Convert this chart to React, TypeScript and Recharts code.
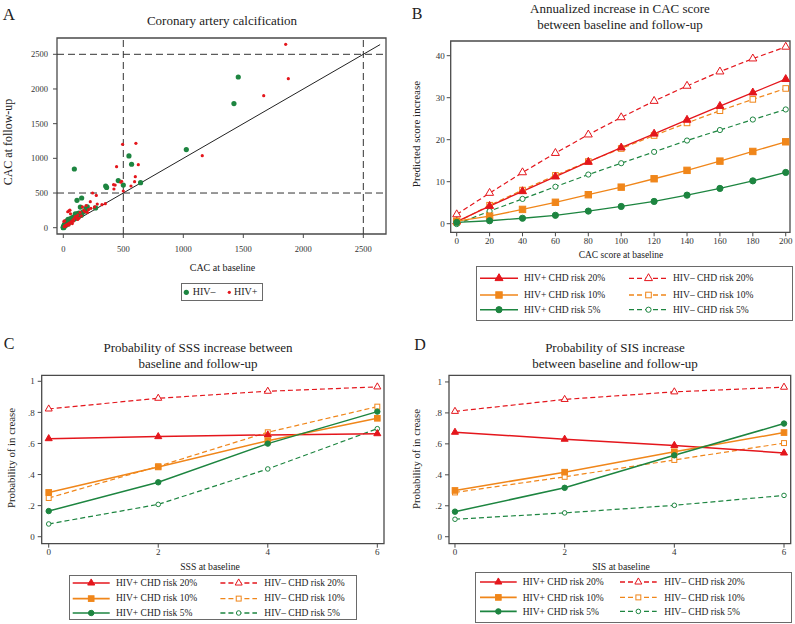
import React from 'react';
import { ScatterChart, Scatter, LineChart, Line, XAxis, YAxis, ReferenceLine, ReferenceArea } from 'recharts';

const FONT = "'Liberation Serif', 'Times New Roman', serif";
const RED = '#e4161c';
const ORANGE = '#f0861a';
const GREEN = '#1d8540';
const AXIS = '#4a4a4a';
const TEXT = '#222';

// ---------- Panel A: scatter ----------
const hivNeg: [number, number][] = [
  [1458, 2173], [1422, 1789], [1025, 1127], [547, 1035], [569, 915], [458, 680], [500, 615], [644, 649],
  [92, 846], [353, 600], [361, 580], [153, 428], [114, 394], [142, 298], [200, 300], [190, 280], [269, 285],
  [120, 205], [130, 210], [100, 200], [80, 150], [60, 130], [40, 120], [30, 100], [50, 90], [20, 80],
  [10, 50], [5, 30], [0, 10], [2, 5], [15, 40], [25, 60], [35, 70], [45, 85], [55, 100], [70, 110],
  [90, 150], [110, 170], [140, 200], [160, 220], [180, 240], [75, 135], [65, 120], [12, 25], [8, 18],
  [3, 8], [28, 45], [38, 55], [48, 75], [18, 30], [95, 160], [125, 190], [150, 180], [105, 140], [85, 120],
  [0, 0], [1, 3],
];
const hivPos: [number, number][] = [
  [1853, 2644], [1875, 2149], [1670, 1904], [1158, 1038], [605, 1216], [494, 1202], [444, 880], [625, 909],
  [600, 736], [594, 663], [486, 668], [478, 655], [419, 620], [432, 615], [422, 558], [564, 601], [500, 529],
  [244, 500], [275, 466], [225, 375], [350, 346], [322, 332], [283, 341], [47, 242], [37, 230], [55, 252],
  [60, 200], [10, 100], [5, 90], [100, 160], [120, 180], [170, 250], [180, 230], [200, 220], [190, 320],
  [160, 300], [140, 220], [110, 150], [90, 130], [80, 110], [70, 90], [55, 70], [45, 60], [35, 50],
  [25, 40], [15, 30], [8, 15], [20, 20], [30, 35], [65, 80], [130, 135], [150, 170], [210, 260],
  [230, 280], [260, 300], [120, 120], [85, 95], [48, 40], [75, 60],
];
const diagonal = [{ x: 0, y: 0 }, { x: 2640, y: 2640 }];
const aTicks = [0, 500, 1000, 1500, 2000, 2500];
const aCutoffs = [500, 2500];

// ---------- Panel B ----------
const bX = [0, 20, 40, 60, 80, 100, 120, 140, 160, 180, 200];
const bPos20 = [0.5, 4.2, 7.7, 11.2, 14.7, 18.1, 21.4, 24.7, 28.0, 31.2, 34.4];
const bNeg20 = [2.2, 7.3, 12.2, 16.8, 21.2, 25.3, 29.2, 32.8, 36.2, 39.3, 42.1];
const bPos10 = [0.6, 1.8, 3.4, 5.1, 6.9, 8.7, 10.7, 12.7, 14.9, 17.2, 19.5];
const bNeg10 = [0.3, 4.4, 8.0, 11.5, 14.8, 17.9, 21.0, 24.0, 26.9, 29.6, 32.2];
const bPos5 = [0.3, 0.7, 1.3, 2.0, 3.0, 4.1, 5.3, 6.8, 8.4, 10.2, 12.2];
const bNeg5 = [-0.1, 3.0, 5.9, 8.8, 11.7, 14.4, 17.1, 19.8, 22.3, 24.8, 27.2];
const bXTicks = [0, 20, 40, 60, 80, 100, 120, 140, 160, 180, 200];
const bYTicks = [0, 10, 20, 30, 40];

// ---------- Panel C ----------
const cX = [0, 2, 4, 6];
const cPos20 = [0.631, 0.644, 0.655, 0.663];
const cNeg20 = [0.822, 0.891, 0.936, 0.964];
const cPos10 = [0.285, 0.449, 0.618, 0.762];
const cNeg10 = [0.249, 0.453, 0.672, 0.837];
const cPos5 = [0.165, 0.35, 0.599, 0.805];
const cNeg5 = [0.082, 0.208, 0.436, 0.695];

// ---------- Panel D ----------
const dX = [0, 2, 4, 6];
const dPos20 = [0.675, 0.63, 0.59, 0.541];
const dNeg20 = [0.81, 0.887, 0.936, 0.966];
const dPos10 = [0.299, 0.417, 0.549, 0.673];
const dNeg10 = [0.286, 0.387, 0.496, 0.605];
const dPos5 = [0.162, 0.316, 0.526, 0.731];
const dNeg5 = [0.113, 0.154, 0.203, 0.267];

const probXTicks = [0, 2, 4, 6];
const probYTicks = [0, 0.2, 0.4, 0.6, 0.8, 1];

type MarkerType = 'triangle' | 'square' | 'circle';
interface SeriesDef { key: string; label: string; color: string; dashed: boolean; marker: MarkerType; filled: boolean; }

const seriesDefs: SeriesDef[] = [
  { key: 'n20', label: 'HIV\u2013 CHD risk 20%', color: RED, dashed: true, marker: 'triangle', filled: false },
  { key: 'n10', label: 'HIV\u2013 CHD risk 10%', color: ORANGE, dashed: true, marker: 'square', filled: false },
  { key: 'n5', label: 'HIV\u2013 CHD risk 5%', color: GREEN, dashed: true, marker: 'circle', filled: false },
  { key: 'p20', label: 'HIV+ CHD risk 20%', color: RED, dashed: false, marker: 'triangle', filled: true },
  { key: 'p10', label: 'HIV+ CHD risk 10%', color: ORANGE, dashed: false, marker: 'square', filled: true },
  { key: 'p5', label: 'HIV+ CHD risk 5%', color: GREEN, dashed: false, marker: 'circle', filled: true },
];
const legendGrid = [['p20', 'n20'], ['p10', 'n10'], ['p5', 'n5']];

function buildRows(xs: number[], p20: number[], n20: number[], p10: number[], n10: number[], p5: number[], n5: number[]) {
  return xs.map((x, i) => ({ x, p20: p20[i], n20: n20[i], p10: p10[i], n10: n10[i], p5: p5[i], n5: n5[i] }));
}
const bRows = buildRows(bX, bPos20, bNeg20, bPos10, bNeg10, bPos5, bNeg5);
const cRows = buildRows(cX, cPos20, cNeg20, cPos10, cNeg10, cPos5, cNeg5);
const dRows = buildRows(dX, dPos20, dNeg20, dPos10, dNeg10, dPos5, dNeg5);

function Marker({ x, y, type, filled, color, scale }: { x: number; y: number; type: MarkerType; filled: boolean; color: string; scale: number }) {
  const fill = filled ? color : '#fff';
  const sw = 1;
  if (type === 'triangle') {
    const s = 8 * scale;
    const h = s * 0.866;
    const pts = `${x},${y - (2 * h) / 3} ${x - s / 2},${y + h / 3} ${x + s / 2},${y + h / 3}`;
    return <polygon points={pts} fill={fill} stroke={color} strokeWidth={sw} />;
  }
  if (type === 'square') {
    const s = (filled ? 6.4 : 5.6) * scale;
    return <rect x={x - s / 2} y={y - s / 2} width={s} height={s} fill={fill} stroke={color} strokeWidth={sw} />;
  }
  const r = (filled ? 3.1 : 2.6) * scale;
  return <circle cx={x} cy={y} r={r} fill={fill} stroke={color} strokeWidth={sw} />;
}

function dotRenderer(def: SeriesDef, scale: number) {
  return (props: any) => {
    const { cx, cy, index } = props;
    if (cx == null || cy == null) return <g key={`e${index}`} />;
    return (
      <g key={`${def.key}-${index}`}>
        <Marker x={cx} y={cy} type={def.marker} filled={def.filled} color={def.color} scale={scale} />
      </g>
    );
  };
}

function Txt({ x, y, size, children, rotate }: { x: number; y: number; size: number; children: React.ReactNode; rotate?: boolean }) {
  return (
    <div
      style={{
        position: 'absolute', left: x, top: y,
        transform: `translate(-50%, -50%)${rotate ? ' rotate(-90deg)' : ''}`,
        fontSize: size, fontFamily: FONT, lineHeight: 1, whiteSpace: 'nowrap', color: TEXT,
      }}
    >
      {children}
    </div>
  );
}

interface LegendLayout { left: number; top: number; width: number; height: number; rows: number[]; cols: { x1: number; x2: number; tx: number }[]; scale: number; solidWidth: number; }

function SeriesLegend({ lay }: { lay: LegendLayout }) {
  const items: React.ReactNode[] = [];
  const texts: React.ReactNode[] = [];
  legendGrid.forEach((row, ri) => {
    row.forEach((key, ci) => {
      const def = seriesDefs.find((d) => d.key === key)!;
      const c = lay.cols[ci];
      const y = lay.rows[ri];
      items.push(
        <g key={key}>
          <line x1={c.x1} x2={c.x2} y1={y} y2={y} stroke={def.color} strokeWidth={def.dashed ? 1.3 : lay.solidWidth} strokeDasharray={def.dashed ? '5 3' : undefined} />
          <Marker x={(c.x1 + c.x2) / 2} y={y} type={def.marker} filled={def.filled} color={def.color} scale={lay.scale} />
        </g>
      );
      texts.push(
        <div key={key} style={{ position: 'absolute', left: c.tx, top: y, transform: 'translateY(-50%)', fontSize: 9.5, fontFamily: FONT, lineHeight: 1, whiteSpace: 'nowrap', color: TEXT }}>
          {def.label}
        </div>
      );
    });
  });
  return (
    <div style={{ position: 'absolute', left: lay.left, top: lay.top, width: lay.width, height: lay.height, border: '1px solid #6a6a6a', boxSizing: 'border-box', background: '#fff' }}>
      <svg width={lay.width} height={lay.height} style={{ position: 'absolute', left: -1, top: -1, overflow: 'visible' }}>
        {items}
      </svg>
      {texts.map((t, i) => <React.Fragment key={i}>{t}</React.Fragment>)}
    </div>
  );
}

const tickStyle = (size: number) => ({ fontSize: size, fill: '#333', fontFamily: FONT });

function LinePanel({ rows, width, height, margin, yWidth, xHeight, xDomain, yDomain, xTicks, yTicks, yFmt, scale, xTickMargin, yTickMargin, solidWidth }: any) {
  const order = ['n20', 'n10', 'n5', 'p20', 'p10', 'p5'];
  return (
    <LineChart width={width} height={height} data={rows} margin={margin}>
      <XAxis type="number" dataKey="x" domain={xDomain} ticks={xTicks} allowDataOverflow height={xHeight} tickSize={4} tickMargin={xTickMargin} axisLine={false} tickLine={{ stroke: AXIS }} tick={tickStyle(9)} interval={0} />
      <YAxis type="number" domain={yDomain} ticks={yTicks} allowDataOverflow width={yWidth} tickSize={4} tickMargin={yTickMargin} axisLine={false} tickLine={{ stroke: AXIS }} tick={tickStyle(9)} tickFormatter={yFmt} interval={0} />
      <ReferenceArea x1={xDomain[0]} x2={xDomain[1]} y1={yDomain[0]} y2={yDomain[1]} fill="none" fillOpacity={0} stroke={AXIS} strokeWidth={1.3} ifOverflow="visible" />
      {order.map((k) => {
        const def = seriesDefs.find((d) => d.key === k)!;
        return (
          <Line key={k} type="linear" dataKey={k} stroke={def.color} strokeWidth={def.dashed ? 1.2 : solidWidth} strokeDasharray={def.dashed ? '5 3' : undefined} dot={dotRenderer(def, scale)} activeDot={false} isAnimationActive={false} />
        );
      })}
    </LineChart>
  );
}

const probFmt = (v: number) => (v === 0 ? '0' : v === 1 ? '1' : String(v).replace(/^0/, ''));

export default function App() {
  const negPts = hivNeg.map(([x, y]) => ({ x, y }));
  const posPts = hivPos.map(([x, y]) => ({ x, y }));
  const aX: [number, number] = [-52.5, 2689];
  const aY: [number, number] = [-90.8, 2735];
  return (
    <div style={{ position: 'absolute', left: 0, top: 0, width: 795, height: 624, background: '#fff', overflow: 'hidden' }}>
      {/* Panel A */}
      <div style={{ position: 'absolute', left: 0, top: 0 }}>
        <ScatterChart width={400} height={330} margin={{ top: 38, right: 14, left: 0, bottom: 0 }}>
          <XAxis type="number" dataKey="x" domain={aX} ticks={aTicks} allowDataOverflow height={96} tickSize={4} tickMargin={7.5} axisLine={false} tickLine={{ stroke: AXIS }} tick={tickStyle(8.5)} interval={0} />
          <YAxis type="number" dataKey="y" domain={aY} ticks={aTicks} allowDataOverflow width={57} tickSize={4} tickMargin={5} axisLine={false} tickLine={{ stroke: AXIS }} tick={tickStyle(8.5)} interval={0} />
          <ReferenceArea x1={aX[0]} x2={aX[1]} y1={aY[0]} y2={aY[1]} fill="none" fillOpacity={0} stroke={AXIS} strokeWidth={1.3} ifOverflow="visible" />
          {aCutoffs.map((v) => (
            <ReferenceLine key={`vx${v}`} x={v} stroke="#333" strokeWidth={1} strokeDasharray="7 4" />
          ))}
          {aCutoffs.map((v) => (
            <ReferenceLine key={`hy${v}`} y={v} stroke="#333" strokeWidth={1} strokeDasharray="7 4" />
          ))}
          <ReferenceLine segment={diagonal} stroke="#222" strokeWidth={1} />
          <Scatter data={negPts} isAnimationActive={false} shape={(p: any) => <circle cx={p.cx} cy={p.cy} r={2.6} fill={GREEN} />} />
          <Scatter data={posPts} isAnimationActive={false} shape={(p: any) => <circle cx={p.cx} cy={p.cy} r={1.6} fill={RED} />} />
        </ScatterChart>
      </div>
      {/* Panel B */}
      <div style={{ position: 'absolute', left: 400, top: 0 }}>
        <LinePanel rows={bRows} width={395} height={330} margin={{ top: 41, right: 5, left: 0, bottom: 0 }} yWidth={50.7} xHeight={97.7}
          xDomain={[-3.65, 202.6]} yDomain={[-2.05, 43.5]} xTicks={bXTicks} yTicks={bYTicks} scale={1} xTickMargin={1.3} yTickMargin={2} solidWidth={1.3} />
      </div>
      {/* Panel C */}
      <div style={{ position: 'absolute', left: 0, top: 330 }}>
        <LinePanel rows={cRows} width={400} height={294} margin={{ top: 45.3, right: 16, left: 0, bottom: 0 }} yWidth={41.7} xHeight={80.3}
          xDomain={[-0.128, 6.122]} yDomain={[-0.045, 1.0386]} xTicks={probXTicks} yTicks={probYTicks} yFmt={probFmt} scale={0.88} xTickMargin={1.4} yTickMargin={3} solidWidth={1.5} />
      </div>
      {/* Panel D */}
      <div style={{ position: 'absolute', left: 400, top: 330 }}>
        <LinePanel rows={dRows} width={395} height={294} margin={{ top: 45.3, right: 4.3, left: 0, bottom: 0 }} yWidth={49} xHeight={80.3}
          xDomain={[-0.109, 6.122]} yDomain={[-0.045, 1.0429]} xTicks={probXTicks} yTicks={probYTicks} yFmt={probFmt} scale={0.88} xTickMargin={1.4} yTickMargin={3} solidWidth={1.5} />
      </div>

      {/* Panel letters */}
      <Txt x={9} y={14} size={17}>A</Txt>
      <Txt x={417} y={13.5} size={16}>B</Txt>
      <Txt x={9} y={343.5} size={16}>C</Txt>
      <Txt x={420} y={345} size={16}>D</Txt>

      {/* Titles */}
      <Txt x={222} y={20} size={13}>Coronary artery calcification</Txt>
      <Txt x={620} y={7.5} size={13}>Annualized increase in CAC score</Txt>
      <Txt x={620} y={23.5} size={13}>between baseline and follow-up</Txt>
      <Txt x={198} y={346.7} size={13}>Probability of SSS increase between</Txt>
      <Txt x={198} y={363.2} size={13}>baseline and follow-up</Txt>
      <Txt x={615} y={346.7} size={13}>Probability of SIS increase</Txt>
      <Txt x={615} y={363.2} size={13}>between baseline and follow-up</Txt>

      {/* Axis labels */}
      <Txt x={222.5} y={268} size={10}>CAC at baseline</Txt>
      <Txt x={8} y={142} size={12} rotate>CAC at follow-up</Txt>
      <Txt x={621} y={255.5} size={9.5}>CAC score at baseline</Txt>
      <Txt x={416} y={134} size={11} rotate>Predicted score increase</Txt>
      <Txt x={210} y={566.7} size={9.7}>SSS at baseline</Txt>
      <Txt x={11} y={458} size={10.75} rotate>Probability of in crease</Txt>
      <Txt x={621} y={566.7} size={9.7}>SIS at baseline</Txt>
      <Txt x={416} y={459} size={10.75} rotate>Probability of in crease</Txt>

      {/* Panel A legend */}
      <div style={{ position: 'absolute', left: 180.7, top: 283, width: 82.6, height: 18, border: '1px solid #6a6a6a', boxSizing: 'border-box' }}>
        <svg width={82} height={18} style={{ position: 'absolute', left: -1, top: -1 }}>
          <circle cx={5.3} cy={9.3} r={2.6} fill={GREEN} />
          <circle cx={48.3} cy={9.3} r={1.6} fill={RED} />
        </svg>
        <div style={{ position: 'absolute', left: 11, top: 8.3, transform: 'translateY(-50%)', fontSize: 10, fontFamily: FONT, lineHeight: 1, color: TEXT, whiteSpace: 'nowrap' }}>HIV{'\u2013'}</div>
        <div style={{ position: 'absolute', left: 52.3, top: 8.3, transform: 'translateY(-50%)', fontSize: 10, fontFamily: FONT, lineHeight: 1, color: TEXT, whiteSpace: 'nowrap' }}>HIV+</div>
      </div>

      <SeriesLegend lay={{ left: 476, top: 266, width: 317, height: 55, rows: [12.3, 29, 43.7], cols: [{ x1: 4, x2: 42, tx: 47 }, { x1: 153, x2: 192, tx: 196 }], scale: 1, solidWidth: 1.6 }} />
      <SeriesLegend lay={{ left: 69.3, top: 574.7, width: 287.4, height: 45.3, rows: [8, 23.6, 38], cols: [{ x1: 3.7, x2: 40.7, tx: 45.7 }, { x1: 151.4, x2: 188, tx: 194 }], scale: 0.88, solidWidth: 1.6 }} />
      <SeriesLegend lay={{ left: 475, top: 572.3, width: 316.7, height: 50.4, rows: [10, 25.4, 39.4], cols: [{ x1: 5, x2: 41.7, tx: 46.7 }, { x1: 145, x2: 181.7, tx: 188.3 }], scale: 0.88, solidWidth: 1.6 }} />
    </div>
  );
}
